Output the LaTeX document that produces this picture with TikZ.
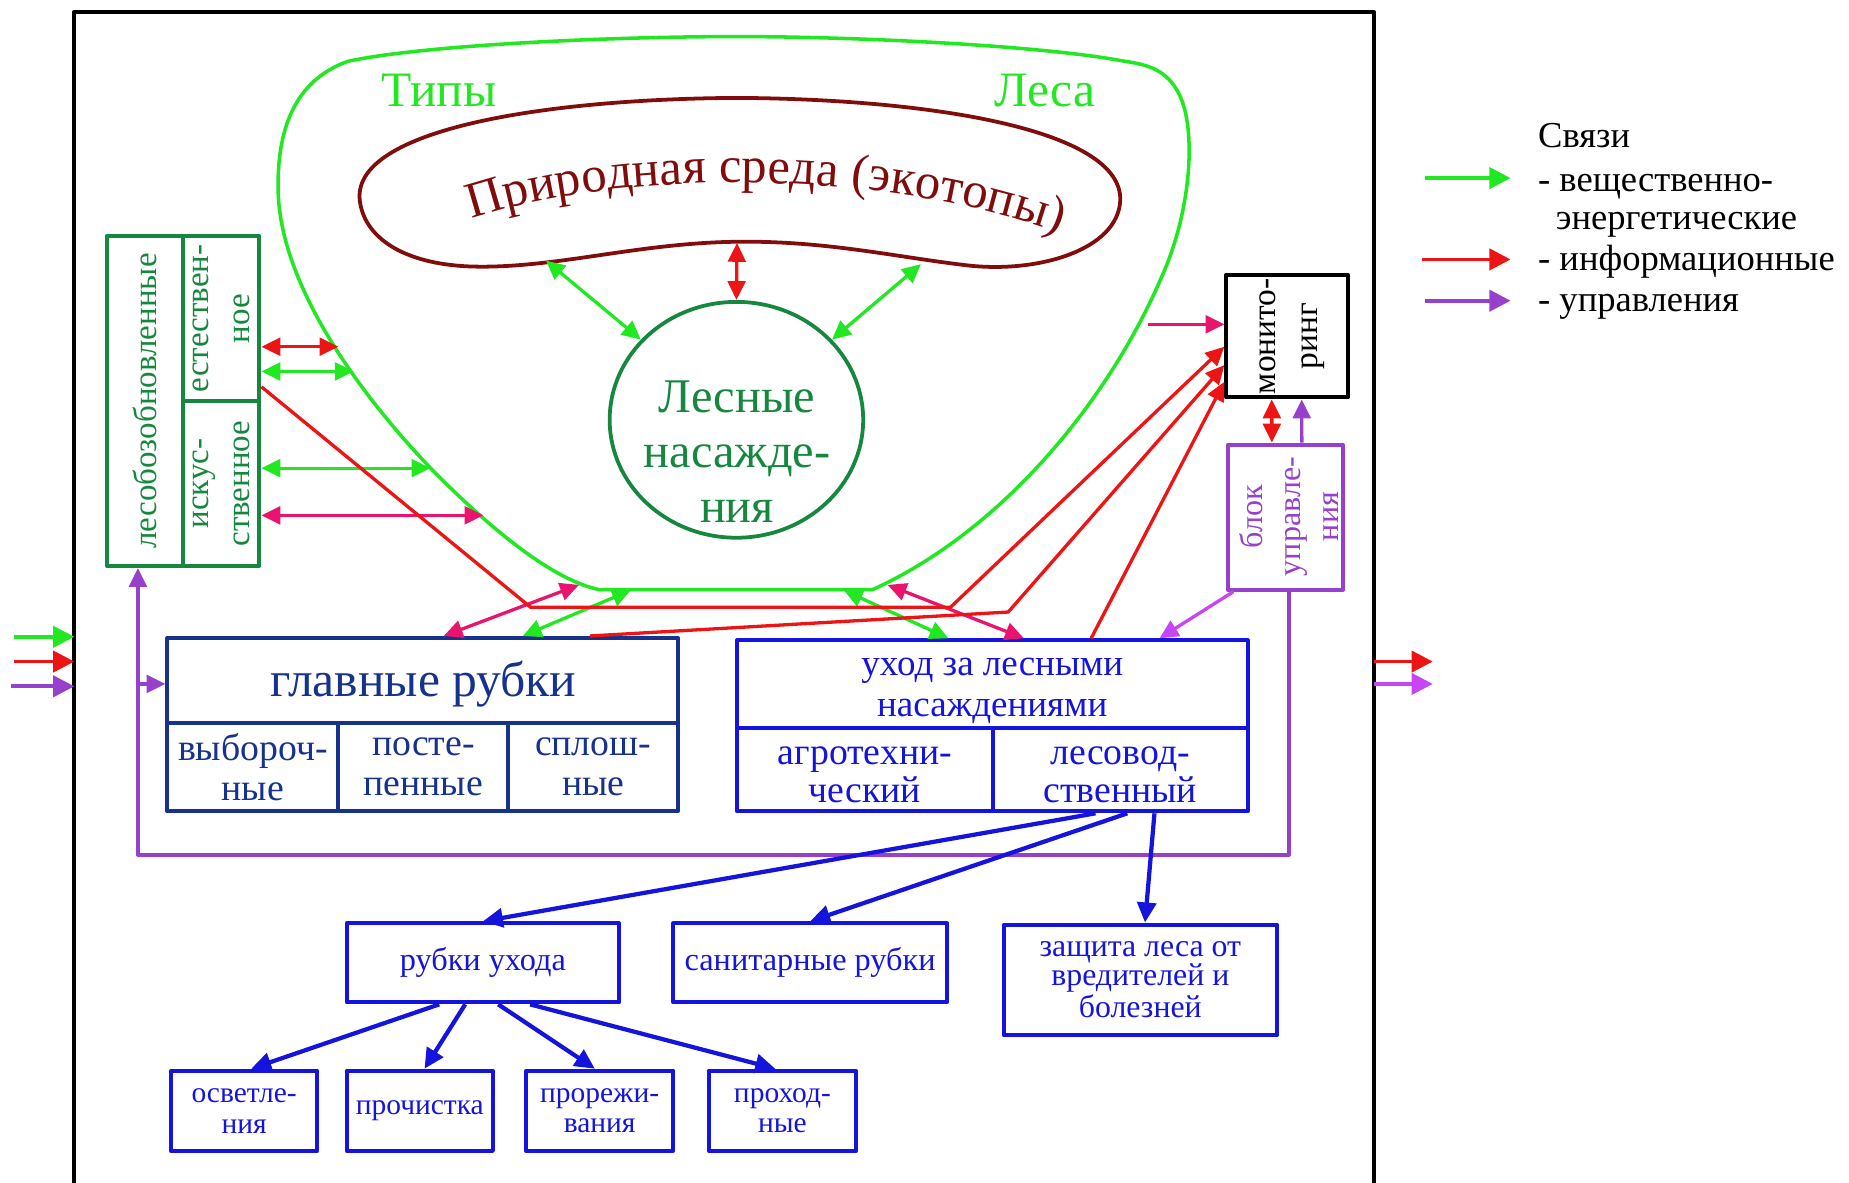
\documentclass[tikz,border=0pt]{standalone}
\usepackage{fontspec}
\setmainfont{Liberation Serif}
\usetikzlibrary{arrows.meta,shapes.geometric,decorations.text}
\definecolor{cLime}{RGB}{34,232,34}
\definecolor{cRed}{RGB}{236,20,20}
\definecolor{cPink}{RGB}{232,20,110}
\definecolor{cViol}{RGB}{150,64,204}
\definecolor{cMag}{RGB}{198,70,245}
\definecolor{cDGreen}{RGB}{22,135,62}
\definecolor{cEnv}{RGB}{128,12,12}
\definecolor{cNavy}{RGB}{22,50,140}
\definecolor{cBlue}{RGB}{20,20,220}
\newcommand\myfs[2]{\fontsize{#1}{#2}\selectfont}
\newcommand\envfont{\fontsize{21.5}{24}\selectfont}
\begin{document}
\begin{tikzpicture}[x=0.5pt, y=-0.5pt, line join=round,
  >={Triangle[length=8pt,width=7.5pt]},
  ln/.style={line width=1.4pt},
  big/.style={line width=1.6pt, >={Triangle[length=9pt,width=9pt]}},
  bln/.style={line width=1.8pt, cBlue, >={Triangle[length=8.5pt,width=8pt]}},
  bx/.style={draw, line width=1.7pt, inner sep=0pt, align=center},
  lesbox/.style={bx, draw=cDGreen},
  navybox/.style={bx, draw=cNavy, text=cNavy},
  bluebox/.style={bx, draw=cBlue, text=cBlue},
  vt/.style={rotate=90, align=center, inner sep=0pt},
  tx/.style={align=center, inner sep=0pt},
  lg/.style={inner sep=0pt, font=\myfs{15.5}{17.5}}]
\useasboundingbox (0,0) rectangle (1568,1003);

% outer frame
\coordinate (fBL) at (63,1020);
\coordinate (fTL) at (63,10);
\coordinate (fTR) at (1165,10);
\coordinate (fBR) at (1165,1020);
\draw[line width=1.7pt] (fBL) -- (fTL) -- (fTR) -- (fBR);

% forest types blob
\draw[cLime, line width=1.5pt] (625,31) .. controls (520,31) and (360,38) .. (295,52)
  .. controls (250,68) and (234,110) .. (236,165)
  .. controls (239,240) and (300,330) .. (370,402)
  .. controls (420,452) and (470,492) .. (508,500) -- (740,500)
  .. controls (850,450) and (940,340) .. (985,235)
  .. controls (1010,180) and (1015,110) .. (1000,80)
  .. controls (990,60) and (975,55) .. (954,52)
  .. controls (880,38) and (720,31) .. (625,31) -- cycle;
\node[text=cLime, font=\myfs{21}{24}, anchor=base, inner sep=0pt] (typy) at (372,90) {Типы};
\node[text=cLime, font=\myfs{21}{24}, anchor=base, inner sep=0pt] (lesa) at (886,90) {Леса};

% environment bean
\draw[cEnv, line width=1.6pt] (305,169) .. controls (300,110) and (460,84) .. (625,83)
  .. controls (790,84) and (952,110) .. (950,170)
  .. controls (948,212) and (880,232) .. (820,225)
  .. controls (760,218) and (700,204) .. (625,205)
  .. controls (540,206) and (470,228) .. (400,226)
  .. controls (340,224) and (308,200) .. (305,169) -- cycle;
\path[decorate, decoration={text along path, text={|\envfont|Природная среда (экотопы)}, text align=center, text color=cEnv}]
  (392,188) .. controls (520,142) and (760,142) .. (906,201);

% forest stands
\node[ellipse, draw=cDGreen, line width=1.6pt, minimum width=107.5pt, minimum height=100pt, inner sep=0pt] (les) at (624.5,356) {};
\node[tx, text=cDGreen, font=\myfs{20.5}{23.3}] (lesT) at (625,383) {Лесные\\насажде-\\ния};

\coordinate (envB) at (625,206);
\coordinate (envL) at (463,221);
\coordinate (envR) at (781,224);
\draw[<->, ln, cRed] (envB) -- (les.north);
\draw[<->, ln, cLime] (envL) -- (les.140);
\draw[<->, ln, cLime] (envR) -- (les.40);

% reforestation box
\node[lesbox, minimum width=32pt, minimum height=140pt] (lesA) at (123,340) {};
\node[lesbox, minimum width=32.5pt, minimum height=70pt] (lesB) at (187.5,270) {};
\node[lesbox, minimum width=32.5pt, minimum height=70pt] (lesC) at (187.5,410) {};
\node[vt, text=cDGreen, font=\myfs{14}{17.5}] (lesAt) at (lesA) {лесобозобновленные};
\node[vt, text=cDGreen, font=\myfs{14}{17.5}] (lesBt) at (lesB) {естествен-\\ное};
\node[vt, text=cDGreen, font=\myfs{14}{17.5}] (lesCt) at (lesC) {искус-\\ственное};

\coordinate (tR1) at (287,294);
\coordinate (tG1) at (300,315);
\coordinate (tG2) at (365,397);
\coordinate (tP1) at (410,437);
\draw[<->, ln, cRed] (lesB.east |- tR1) -- (tR1);
\draw[<->, ln, cLime] (lesB.east |- tG1) -- (tG1);
\draw[<->, ln, cLime] (lesC.east |- tG2) -- (tG2);
\draw[<->, ln, cPink] (lesC.east |- tP1) -- (tP1);

% monitoring and control
\node[bx, draw=black, minimum width=51.5pt, minimum height=52pt] (mon) at (1091.5,285) {};
\node[vt, font=\myfs{14.2}{17.7}] (monT) at (1096,285) {монито-\\ринг};
\node[bx, draw=cViol, minimum width=49pt, minimum height=61.5pt] (blok) at (1090,438.5) {};
\node[vt, text=cViol, font=\myfs{13.6}{16}] (blokT) at (1093,438) {блок\\управле-\\ния};

\draw[<->, ln, cRed] ([xshift=-6.5pt]mon.south) -- ([xshift=-5.7pt]blok.north);
\draw[->, ln, cViol] ([xshift=7pt]blok.north) -- ([xshift=6.2pt]mon.south);

% main cuttings
\node[navybox, minimum width=216.5pt, minimum height=36pt] (glavH) at (358.5,577) {};
\node[tx, text=cNavy, font=\myfs{21}{24}] (glavHt) at (359,580) {главные рубки};
\node[navybox, minimum width=72.5pt, minimum height=37.5pt, font=\myfs{16}{17}] (glav1) at (214.5,650.5) {выбороч-\\ные};
\node[navybox, minimum width=72pt, minimum height=37.5pt, font=\myfs{16}{17}] (glav2) at (359,650.5) {посте-\\пенные};
\node[navybox, minimum width=72pt, minimum height=37.5pt, font=\myfs{16}{17}] (glav3) at (503,650.5) {сплош-\\ные};

% care
\node[bluebox, minimum width=216.5pt, minimum height=37pt] (uhodH) at (841.5,580) {};
\node[tx, text=cBlue, font=\myfs{15.7}{17.5}] (uhodHt) at (841.5,586) {уход за лесными\\насаждениями};
\node[bluebox, minimum width=108.5pt, minimum height=35.5pt] (uhod1) at (733.5,652.5) {};
\node[bluebox, minimum width=108pt, minimum height=35.5pt] (uhod2) at (950,652.5) {};
\node[tx, text=cBlue, font=\myfs{16}{16.3}] (uhod1t) at (733.5,657) {агротехни-\\ческий};
\node[tx, text=cBlue, font=\myfs{16}{16.3}] (uhod2t) at (950,657) {лесовод-\\ственный};

% lower boxes
\node[bluebox, minimum width=115.5pt, minimum height=33.5pt, font=\myfs{13.7}{16}] (rukh) at (409.5,816.5) {рубки ухода};
\node[bluebox, minimum width=116pt, minimum height=33.5pt, font=\myfs{13.7}{16}] (san) at (687,816.5) {санитарные рубки};
\node[bluebox, minimum width=116pt, minimum height=47pt, font=\myfs{13.5}{12.3}] (zas) at (967,831) {защита леса от\\вредителей и\\болезней};
\node[bluebox, minimum width=62pt, minimum height=34pt, font=\myfs{12.5}{13}] (osv) at (207,942) {осветле-\\ния};
\node[bluebox, minimum width=62pt, minimum height=34pt, font=\myfs{12.5}{13}] (pro) at (356,942) {прочистка};
\node[bluebox, minimum width=62.5pt, minimum height=34pt, font=\myfs{12.5}{13}] (prz) at (508.5,942) {прорежи-\\вания};
\node[bluebox, minimum width=62.5pt, minimum height=34pt, font=\myfs{12.5}{13}] (prh) at (663.5,942) {проход-\\ные};

% links between blob and boxes
\coordinate (bP2) at (491,496);
\coordinate (bG3) at (535,500.5);
\coordinate (bG4) at (715.6,500.5);
\coordinate (bP3) at (752.7,496);
\coordinate (bPm) at (973.5,275);
\draw[<->, ln, cPink] (bP2) -- ([xshift=118pt]glavH.north west);
\draw[<->, ln, cLime] (bG3) -- ([xshift=151.5pt]glavH.north west);
\draw[<->, ln, cLime] (bG4) -- ([xshift=90.5pt]uhodH.north west);
\draw[<->, ln, cPink] (bP3) -- ([xshift=122.5pt]uhodH.north west);
\draw[->, ln, cPink] (bPm) -- (mon.west |- bPm);

% information lines to monitoring
\coordinate (r1s) at (0,328);
\coordinate (r1a) at (450,515);
\coordinate (r1b) at (806,515);
\coordinate (r2b) at (855,519);
\draw[->, ln, cRed] (lesB.east |- r1s) -- (r1a) -- (r1b) -- ([yshift=-4.5pt]mon.west);
\draw[->, ln, cRed] ([xshift=180pt]glavH.north west) -- (r2b) -- ([yshift=-12.3pt]mon.west);
\draw[->, ln, cRed] ([xshift=151pt]uhodH.north west) -- ([yshift=-19.4pt]mon.west);

% control lines
\coordinate (vC1) at (1093,725);
\coordinate (vC2) at (117,725);
\coordinate (vJ) at (117,580);
\draw[ln, cViol] ([xshift=1.5pt]blok.south) -- (vC1) -- (vC2) -- (vJ);
\draw[->, ln, cViol] (vJ) -- (vJ |- lesA.south);
\draw[->, ln, cViol] (vJ) -- (glavH.west |- vJ);
\draw[->, ln, cMag] ([xshift=-22pt]blok.south) -- ([xshift=180pt]uhodH.north west);

% care subdivisions
\draw[->, bln] ([xshift=-10.5pt]uhod2.south) -- (rukh.north);
\draw[->, bln] ([xshift=3pt]uhod2.south) -- (san.north);
\draw[->, bln] ([xshift=14.5pt]uhod2.south) -- ([xshift=2pt]zas.north);
\draw[->, bln] ([xshift=-18.5pt]rukh.south) -- ([xshift=3pt]osv.north);
\draw[->, bln] ([xshift=-7.5pt]rukh.south) -- ([xshift=2pt]pro.north);
\draw[->, bln] ([xshift=6.5pt]rukh.south) -- ([xshift=-2pt]prz.north);
\draw[->, bln] ([xshift=20pt]rukh.south) -- ([xshift=-3pt]prh.north);

% inputs and outputs
\coordinate (inG) at (12,540);
\coordinate (inR) at (12,561);
\coordinate (inV) at (9,582);
\coordinate (outR) at (1215,561);
\coordinate (outV) at (1215,580);
\draw[->, big, cLime] (inG) -- (inG -| fTL);
\draw[->, big, cRed] (inR) -- (inR -| fTL);
\draw[->, big, cViol] (inV) -- (inV -| fTL);
\draw[->, big, cRed] (outR -| fTR) -- (outR);
\draw[->, big, cMag] (outV -| fTR) -- (outV);

% legend
\coordinate (lgG1) at (1208,151);
\coordinate (lgG2) at (1281,151);
\coordinate (lgR1) at (1206,220);
\coordinate (lgR2) at (1281,220);
\coordinate (lgV1) at (1208,255);
\coordinate (lgV2) at (1281,255);
\draw[->, big, cLime] (lgG1) -- (lgG2);
\draw[->, big, cRed] (lgR1) -- (lgR2);
\draw[->, big, cViol] (lgV1) -- (lgV2);
\node[lg, anchor=base west] (lgT0) at (1304,125) {Связи};
\node[lg, anchor=base west] (lgT1) at (1304,162) {- вещественно-};
\node[lg, anchor=base west] (lgT2) at (1319,195) {энергетические};
\node[lg, anchor=base west] (lgT3) at (1304,229) {- информационные};
\node[lg, anchor=base west] (lgT4) at (1304,264) {- управления};
\end{tikzpicture}
\end{document}
